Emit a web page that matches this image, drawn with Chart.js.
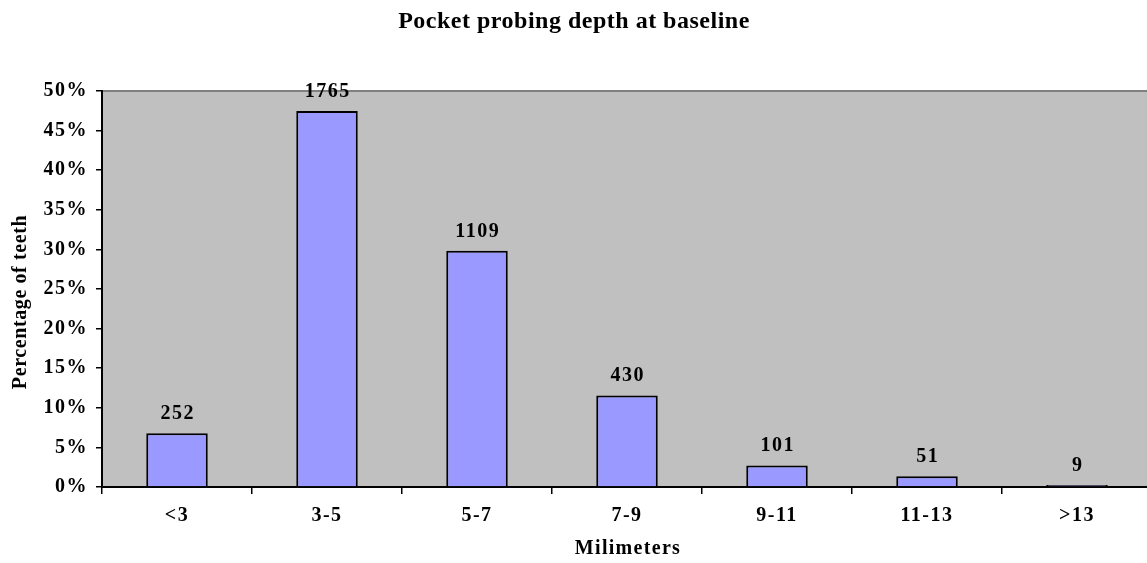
<!DOCTYPE html>
<html>
<head>
<meta charset="utf-8">
<title>Pocket probing depth at baseline</title>
<script src="https://cdn.jsdelivr.net/npm/chart.js@4.4.1/dist/chart.umd.min.js"></script>
<style>
  html, body { margin: 0; padding: 0; background: #fff; overflow: hidden; }
  #wrap { position: absolute; left: 0; top: 0; width: 1160px; height: 563px; }
</style>
</head>
<body>
<div id="wrap"><canvas id="chart" width="1160" height="563"></canvas></div>
<script>
// Depth classes (mm) and number of teeth in each class
const categories = ['<3', '3-5', '5-7', '7-9', '9-11', '11-13', '>13'];
const counts = [252, 1765, 1109, 430, 101, 51, 9];
const yTicks = [0, 5, 10, 15, 20, 25, 30, 35, 40, 45, 50];

const chartTitle = 'Pocket probing depth at baseline';
const xTitle = 'Milimeters';
const yTitle = 'Percentage of teeth';

// Bar height = share of all teeth, in percent
const totalTeeth = counts.reduce((a, b) => a + b, 0);
const shares = counts.map(c => c / totalTeeth * 100);

const SERIF = '"Liberation Serif", "Times New Roman", serif';
const PLOT_BG = '#C0C0C0';

const plotFrame = {
  id: 'plotFrame',
  beforeDraw(chart) {
    const { ctx, chartArea: a } = chart;
    ctx.save();
    ctx.fillStyle = PLOT_BG;
    ctx.fillRect(a.left, a.top, a.right - a.left, a.bottom - a.top);
    ctx.strokeStyle = '#808080';
    ctx.lineWidth = 2;
    ctx.beginPath();
    ctx.moveTo(a.left, a.top);
    ctx.lineTo(a.right, a.top);
    ctx.stroke();
    ctx.restore();
    // spacing used by the axis tick labels
    ctx.letterSpacing = '1.5px';
  }
};

const texts = {
  id: 'texts',
  afterDraw(chart) {
    const { ctx, chartArea: a } = chart;
    const meta = chart.getDatasetMeta(0);
    ctx.save();
    ctx.fillStyle = '#000';
    ctx.textAlign = 'center';

    // value labels over the bars
    ctx.font = 'bold 20px ' + SERIF;
    ctx.letterSpacing = '1.5px';
    ctx.textBaseline = 'alphabetic';
    meta.data.forEach((bar, i) => {
      ctx.fillText(String(counts[i]), bar.x + 0.75, bar.y - 14);
    });

    // chart title
    ctx.font = 'bold 24px ' + SERIF;
    ctx.letterSpacing = '0.5px';
    ctx.fillText(chartTitle, 574, 28);

    // x axis title
    ctx.font = 'bold 20px ' + SERIF;
    ctx.letterSpacing = '1.3px';
    ctx.textBaseline = 'middle';
    ctx.fillText(xTitle, (a.left + a.right) / 2 + 1, 549);

    // y axis title
    ctx.letterSpacing = '0.6px';
    ctx.translate(20.5, 302);
    ctx.rotate(-Math.PI / 2);
    ctx.fillText(yTitle, 0, 0);
    ctx.restore();
  }
};

new Chart(document.getElementById('chart'), {
  type: 'bar',
  data: {
    labels: categories,
    datasets: [{
      data: shares,
      backgroundColor: '#9999FF',
      borderColor: '#000',
      borderWidth: 2,
      borderSkipped: 'bottom',
      barPercentage: 0.41,
      categoryPercentage: 1
    }]
  },
  options: {
    responsive: false,
    devicePixelRatio: 1,
    animation: false,
    layout: { padding: { top: 91, left: 0, right: 8, bottom: 0 } },
    plugins: {
      legend: { display: false },
      title: { display: false },
      tooltip: { enabled: false }
    },
    scales: {
      x: {
        offset: true,
        grid: { offset: true, drawOnChartArea: false, tickLength: 7, color: '#000', lineWidth: 1.5 },
        border: { color: '#000', width: 2 },
        ticks: { color: '#000', font: { family: SERIF, size: 20, weight: 'bold' }, padding: 10, maxRotation: 0 },
        afterFit(s) { s.height = 76; }
      },
      y: {
        min: 0,
        max: 50,
        afterBuildTicks(s) { s.ticks = yTicks.map(v => ({ value: v })); },
        grid: { drawOnChartArea: false, tickLength: 6, color: '#000', lineWidth: 1.5 },
        border: { color: '#000', width: 2 },
        ticks: { color: '#000', font: { family: SERIF, size: 20, weight: 'bold' }, padding: 8, callback: v => v + '%' },
        afterFit(s) { s.width = 102; }
      }
    }
  },
  plugins: [plotFrame, texts]
});
</script>
</body>
</html>
